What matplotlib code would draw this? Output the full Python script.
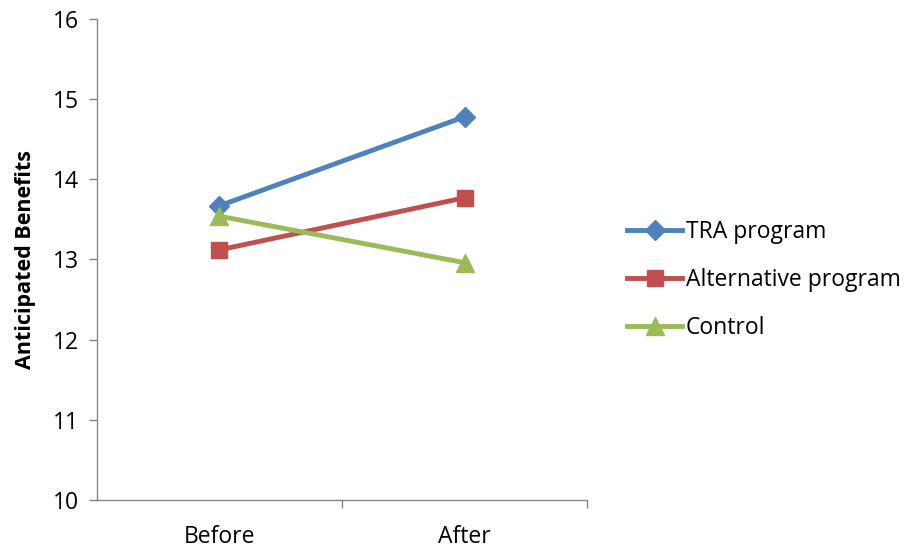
import matplotlib.pyplot as plt

# Données
categories = ["Before", "After"]
tra = [13.67, 14.78]
alternative = [13.12, 13.77]
control = [13.54, 12.96]

series = [
    {"valeurs": tra, "label": "TRA program", "couleur": "#4F81BD", "marker": "D", "ms": 10},
    {"valeurs": alternative, "label": "Alternative program", "couleur": "#C0504D", "marker": "s", "ms": 12},
    {"valeurs": control, "label": "Control", "couleur": "#9BBB59", "marker": "^", "ms": 13},
]

plt.rcParams['font.family'] = ['Open Sans', 'DejaVu Sans']

fig = plt.figure(figsize=(9.06, 5.48), dpi=100)
ax = fig.add_axes([0.107, 0.0876, 0.541, 0.8778])

x = list(range(len(categories)))
for s in series:
    ax.plot(x, s["valeurs"], color=s["couleur"], linewidth=3.5, marker=s["marker"],
            markersize=s["ms"], label=s["label"])

ax.set_xlim(-0.5, len(categories) - 0.5)
ax.set_ylim(10, 16)
ax.set_yticks(range(10, 17))
ax.set_xticks(x)
ax.set_xticklabels(categories)
ax.set_xticks([i + 0.5 for i in x], minor=True)
ax.tick_params(axis='x', which='major', length=0, labelsize=16.5, pad=18)
ax.tick_params(axis='x', which='minor', length=6, color='#868686', width=1)
ax.tick_params(axis='y', length=6, color='#868686', width=1, labelsize=16.5, pad=7)

for cote in ['top', 'right']:
    ax.spines[cote].set_visible(False)
for cote in ['left', 'bottom']:
    ax.spines[cote].set_color('#868686')
    ax.spines[cote].set_linewidth(1)

ax.set_ylabel("Anticipated Benefits", fontsize=15.5, fontweight='bold', labelpad=12)

ax.legend(loc='center left', bbox_to_anchor=(1.082, 0.458), frameon=False,
          fontsize=16.5, handlelength=2.4, handletextpad=0.15, labelspacing=1.05,
          borderaxespad=0, borderpad=0)

plt.savefig('out.png', dpi=100)
